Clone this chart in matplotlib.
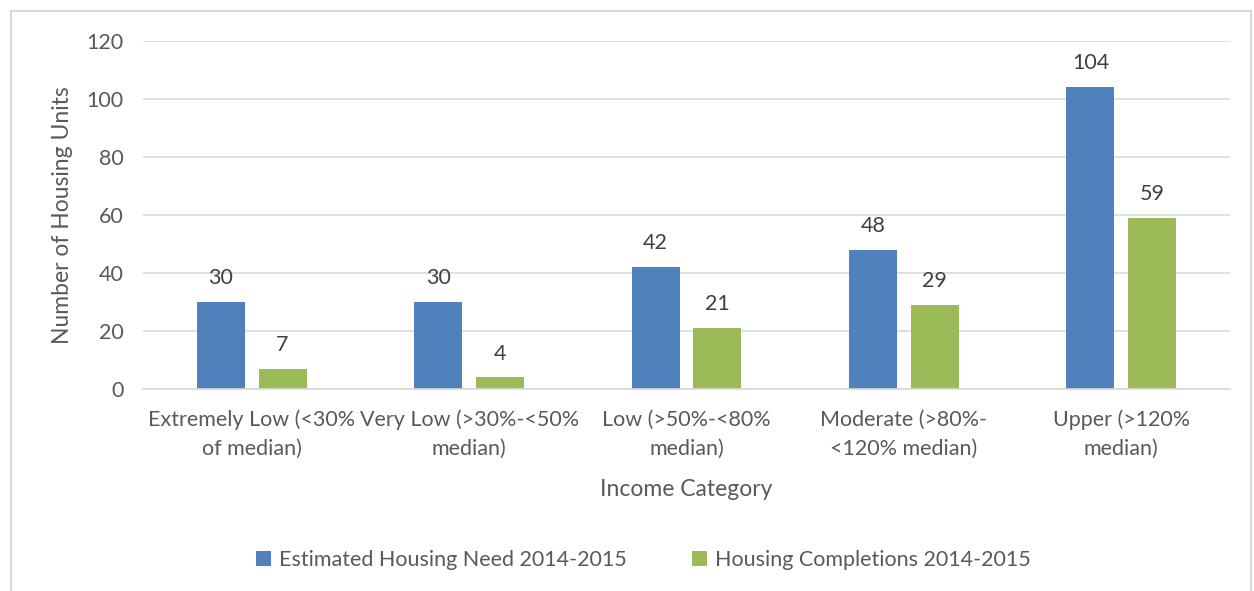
import matplotlib.pyplot as plt
import numpy as np

plt.rcParams['font.family'] = ['Lato', 'DejaVu Sans']

categories = ['Extremely Low (<30%\nof median)', 'Very Low (>30%-<50%\nmedian)',
              'Low (>50%-<80%\nmedian)', 'Moderate (>80%-\n<120% median)',
              'Upper (>120%\nmedian)']
need = [30, 30, 42, 48, 104]
completions = [7, 4, 21, 29, 59]
series_names = ['Estimated Housing Need 2014-2015', 'Housing Completions 2014-2015']

txt = '#595959'
blue = '#4F81BD'
green = '#9BBB59'

fig = plt.figure(figsize=(12.54, 5.91), dpi=100)
ax = fig.add_axes([143/1254, 1-389/591, (1230-143)/1254, (389-40.7)/591])

x = np.arange(len(categories))
w = 0.221
off = 0.142
b1 = ax.bar(x - off, need, w, color=blue, label=series_names[0])
b2 = ax.bar(x + off, completions, w, color=green, label=series_names[1])

for bars, vals in [(b1, need), (b2, completions)]:
    for r, v in zip(bars, vals):
        ax.annotate(str(v), (r.get_x() + r.get_width()/2, v), xytext=(0, 10),
                    textcoords='offset points', ha='center', va='bottom',
                    fontsize=15.5, color='#404040')

ax.set_xlim(-0.5, 4.5)
ax.set_ylim(0, 120)
ax.set_yticks(range(0, 121, 20))
ax.yaxis.grid(True, color='#d9d9d9', lw=1.2)
ax.set_axisbelow(True)
for s in ['top', 'right', 'left']:
    ax.spines[s].set_visible(False)
ax.spines['bottom'].set_color('#d9d9d9')
ax.spines['bottom'].set_linewidth(1.2)
ax.tick_params(length=0, labelsize=15.5, colors=txt)
ax.tick_params(axis='y', pad=14)
ax.tick_params(axis='x', pad=15)
ax.set_xticks(x)
ax.set_xticklabels(categories, linespacing=1.55)

ax.set_ylabel('Number of Housing Units', fontsize=16.5, color=txt, labelpad=10)
ax.set_xlabel('Income Category', fontsize=16.5, color=txt, labelpad=14)

fig.legend(loc='center', bbox_to_anchor=(0.513, 1-560/591), ncol=2, frameon=False,
           fontsize=15.5, labelcolor=txt, handlelength=0.7, handleheight=0.7,
           handletextpad=0.4, columnspacing=3.0)

fig.add_artist(plt.Rectangle((11/1254, -0.01), 1240/1254, 1-11/591+0.01,
                             transform=fig.transFigure, fill=False,
                             edgecolor='#d9d9d9', lw=1.5))

fig.savefig('out.png', dpi=100)
